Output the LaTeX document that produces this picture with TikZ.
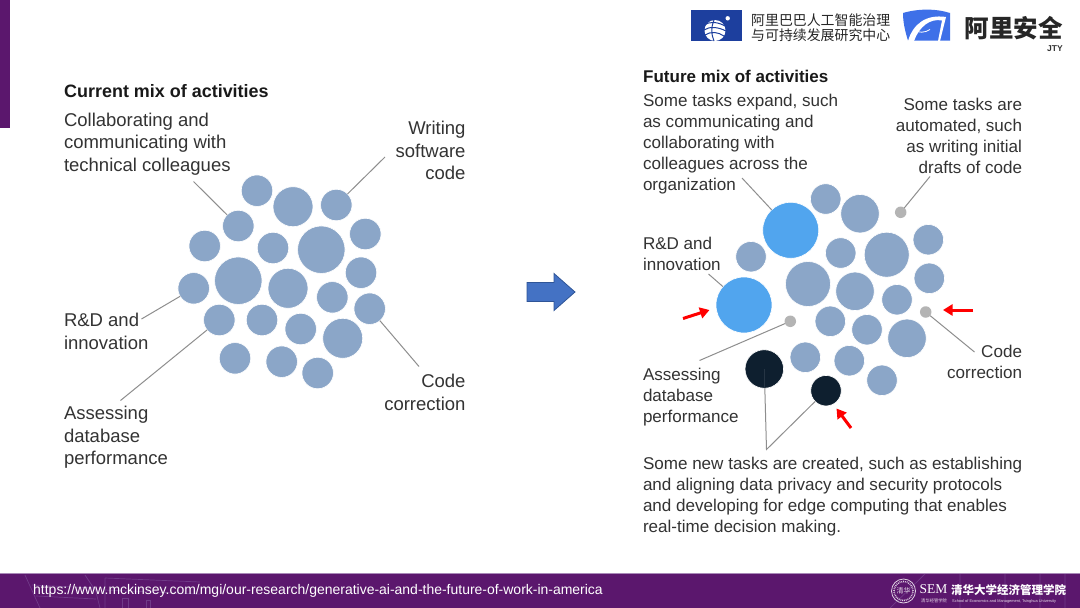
\documentclass[tikz,border=0pt]{standalone}
\usepackage{fontspec}
\setmainfont{Liberation Sans}
\newfontfamily\cjk{Noto Sans CJK SC}
\usetikzlibrary{arrows.meta}
\definecolor{bubblue}{HTML}{8BA6C8}
\definecolor{skyblue}{HTML}{51A5EE}
\definecolor{nightblue}{HTML}{0E1F2F}
\definecolor{dotgray}{HTML}{B4B4B4}
\definecolor{leadgray}{HTML}{8E8E8E}
\definecolor{txtgray}{HTML}{333333}
\definecolor{sempurple}{HTML}{5B176D}
\definecolor{patpurple}{HTML}{703A88}
\definecolor{logoblue}{HTML}{1D3F9E}
\definecolor{shieldblue}{HTML}{3E70E8}
\definecolor{arrowfill}{HTML}{4472C4}
\definecolor{arrowline}{HTML}{2F5597}
\tikzset{
  bub/.style={circle, inner sep=0pt, outer sep=0pt, fill=#1, draw=white, line width=0.6pt},
  bubS/.style={bub=bubblue, minimum size=31.5pt},
  bubM/.style={bub=bubblue, minimum size=40pt},
  bubL/.style={bub=bubblue, minimum size=47.5pt},
  futS/.style={bub=bubblue, minimum size=30.5pt},
  futM/.style={bub=bubblue, minimum size=38.5pt},
  futL/.style={bub=bubblue, minimum size=45pt},
  futB/.style={bub=skyblue, minimum size=56pt},
  futD/.style={bub=nightblue, minimum size=#1},
  dot/.style={circle, inner sep=0pt, outer sep=0pt, fill=dotgray, minimum size=11.5pt},
  lead/.style={draw=leadgray, line width=1pt},
  redarr/.style={draw=red, line width=3pt, -{Triangle[length=9.5pt,width=11pt]}},
  txt/.style={inner sep=0pt, outer sep=0pt, text=txtgray, font=\fontsize{18.5}{22.4}\selectfont},
  lefttxt/.style={txt, anchor=north west, align=left},
  righttxt/.style={txt, anchor=north east, align=right},
  futtxt/.style={inner sep=0pt, outer sep=0pt, text=txtgray, anchor=north west, align=left, font=\fontsize{17.05}{21}\selectfont},
  futrtxt/.style={futtxt, anchor=north east, align=right},
  pat/.style={draw=patpurple, line width=0.7pt}
}
\begin{document}
\begin{tikzpicture}[x=1pt,y=-1pt]
\useasboundingbox (0,0) rectangle (1080,608);
\fill [white] (0,0) rectangle (1080,608);

\fill [sempurple] (0,0) rectangle (10,128);
\fill [sempurple] (0,573) rectangle (1080,608);
\draw [patpurple!60!white, line width=0.8pt] (0,573.5) -- (1080,573.5);
\draw [pat] (25,575)--(40,608) (32,585)--(95,588)--(100,608) (36,596)--(96,599) (85,575)--(95,590) (105,578)--(200,582) (105,590)--(200,594) (105,578)--(105,608);
\draw [pat] (122,598) rectangle (128,608) (146,600) rectangle (150,608);
\draw [pat] (890,608)--(925,574) (960,574)--(960,608) (1005,574)--(1005,608) (1040,574)--(1040,608) (1065,574)--(1065,608);

\coordinate (tech) at (193.5,181.5);
\coordinate (write) at (385,157);
\coordinate (rnd) at (141.5,319);
\coordinate (assess) at (120.5,400.5);
\coordinate (code) at (419,366.5);
\coordinate (orga) at (742,178);
\coordinate (draft) at (930,176.5);
\coordinate (frnd) at (708.5,274);
\coordinate (fassess) at (699.5,360.5);
\coordinate (fcode) at (974.5,352);
\coordinate (newtask) at (766.5,449.5);
\coordinate (redAs) at (683,318.5);
\coordinate (redAe) at (709.5,310);
\coordinate (redBs) at (973,310);
\coordinate (redBe) at (943,310);
\coordinate (redCs) at (851,428);
\coordinate (redCe) at (836.5,408.5);

\node [bubS] (c1) at (257,190.7) {};
\node [bubM] (c2) at (293,206.7) {};
\node [bubS] (c3) at (336.3,205) {};
\node [bubS] (c4) at (238.3,226) {};
\node [bubS] (c5) at (204.7,246) {};
\node [bubS] (c6) at (273,248) {};
\node [bubL] (c7) at (321.3,249.7) {};
\node [bubS] (c8) at (365.3,234) {};
\node [bubS] (c9) at (361,272.7) {};
\node [bubL] (c10) at (238.3,280.7) {};
\node [bubM] (c11) at (288,288.3) {};
\node [bubS] (c12) at (332.3,297.3) {};
\node [bubS] (c13) at (193.7,288.3) {};
\node [bubS] (c14) at (369.7,308.7) {};
\node [bubS] (c15) at (219.3,320) {};
\node [bubS] (c16) at (262,320) {};
\node [bubS] (c17) at (300.7,329) {};
\node [bubM] (c18) at (342.7,338.3) {};
\node [bubS] (c19) at (235,358.3) {};
\node [bubS] (c20) at (281.7,361.7) {};
\node [bubS] (c21) at (317.7,373) {};

\node [futS] (f1) at (825.7,199) {};
\node [futM] (f2) at (860,213.7) {};
\node [dot] (f3) at (900.7,212.3) {};
\node [futB] (f4) at (790.7,230.3) {};
\node [futS] (f5) at (840.7,253) {};
\node [futL] (f6) at (886.7,254.7) {};
\node [futS] (f7) at (928.3,239.7) {};
\node [futS] (f8) at (751,256.7) {};
\node [futS] (f9) at (929.3,278.3) {};
\node [futL] (f10) at (808,284) {};
\node [futM] (f11) at (855,291.3) {};
\node [futS] (f12) at (897,299.7) {};
\node [futB] (f13) at (744,305) {};
\node [dot] (f14) at (925.7,312) {};
\node [dot] (f15) at (790.3,321.3) {};
\node [futS] (f16) at (830.3,321.3) {};
\node [futS] (f17) at (867,329.7) {};
\node [futM] (f18) at (907,338.3) {};
\node [futS] (f19) at (805.3,357.3) {};
\node [futS] (f20) at (849.3,360.7) {};
\node [futD=38.5pt] (f21) at (764.3,369) {};
\node [futS] (f22) at (882,380.3) {};
\node [futD=30.5pt] (f23) at (826,390.7) {};

\draw [lead] (tech) -- (c4);
\draw [lead] (write) -- (c3);
\draw [lead] (rnd) -- (c13);
\draw [lead] (assess) -- (c15);
\draw [lead] (code) -- (c14);
\draw [lead] (orga) -- (f4);
\draw [lead] (draft) -- (f3);
\draw [lead] (frnd) -- (f13);
\draw [lead] (fassess) -- (f15);
\draw [lead] (fcode) -- (f14);
\draw [lead] (f21) -- (newtask) -- (f23);
\draw [draw=nightblue!90!white, line width=0.6pt] (f21.center) -- (f21.south);

\draw [redarr] (redAs) -- (redAe);
\draw [redarr] (redBs) -- (redBe);
\draw [redarr] (redCs) -- (redCe);

\draw [fill=arrowfill, draw=arrowline, line width=0.8pt]
(527,282.5)--(554,282.5)--(554,273.5)--(575,292)--(554,310.5)--(554,301.5)--(527,301.5)--cycle;

\node [inner sep=0pt, anchor=west, text=black!90, font=\bfseries\fontsize{17.95}{21}\selectfont] (curtitle) at (64,91) {Current mix of activities};
\node [lefttxt] (lcollab) at (64,113) {Collaborating and\\communicating with\\technical colleagues};
\node [righttxt] (lwrite) at (465.5,121.5) {Writing\\software\\code};
\node [lefttxt] (lrnd) at (64,313.5) {R\&D and\\innovation};
\node [righttxt] (lcode) at (465.5,374.5) {Code\\correction};
\node [lefttxt] (lassess) at (64,406.5) {Assessing\\database\\performance};

\node [inner sep=0pt, anchor=west, text=black!90, font=\bfseries\fontsize{17}{20}\selectfont] (futtitle) at (643,76) {Future mix of activities};
\node [futtxt] (fexpand) at (643,94.5) {Some tasks expand, such\\as communicating and\\collaborating with\\colleagues across the\\organization};
\node [futrtxt] (fauto) at (1022,98) {Some tasks are\\automated, such\\as writing initial\\drafts of code};
\node [futtxt] (frndt) at (643,237) {R\&D and\\innovation};
\node [futtxt] (fassesst) at (643,368) {Assessing\\database\\performance};
\node [futrtxt] (fcodet) at (1022,345) {Code\\correction};
\node [futtxt] (fnew) at (643,457.5) {Some new tasks are created, such as establishing\\and aligning data privacy and security protocols\\and developing for edge computing that enables\\real-time decision making.};

\node [inner sep=0pt, anchor=west, text=white, font=\fontsize{13.97}{16}\selectfont] (url) at (33,591) {https://www.mckinsey.com/mgi/our-research/generative-ai-and-the-future-of-work-in-america};

\fill [logoblue] (691,10) rectangle (742,41);
\fill [white] (715,30.5) ellipse (10.5pt and 10.5pt);
\draw [logoblue, line width=1pt] (704,25)..controls (710,21) and (718,22) .. (725,26) (704,30)..controls (710,26) and (718,27) .. (726,31) (705,35)..controls (711,31) and (718,32) .. (724,36) (714,20)..controls (711,27) and (711,34) .. (714,41);
\fill [white] (727.7,18.3) circle (2.2pt);
\node [inner sep=0pt, anchor=west, text=black!85, font=\cjk\fontsize{13.9}{15}\selectfont] (logoA) at (751,20.5) {阿里巴巴人工智能治理};
\node [inner sep=0pt, anchor=west, text=black!85, font=\cjk\fontsize{13.9}{15}\selectfont] (logoB) at (751,35.5) {与可持续发展研究中心};
\fill [shieldblue] (903,13)..controls (918,8.5) and (936,8.5) .. (950,13)--(950,40.5)--(908,40.5)..controls (905,31) and (903,22) .. (903,13)--cycle;
\fill [white] (908,41)..controls (913,24) and (926,14) .. (946,17)--(940,41)--(938,41)--(942,20.5)..controls (930,18) and (919,27) .. (914,41)--cycle;
\draw [white, line width=0.8pt] (914.5,30)..controls (918,33) and (925,33) .. (930,29.5);

\node [inner sep=0pt, anchor=west, text=black!85, font=\cjk\bfseries\fontsize{24.5}{26}\selectfont] (logoC) at (964.5,28) {阿里安全};
\node [inner sep=0pt, anchor=east, text=black!80, font=\bfseries\fontsize{8.5}{9}\selectfont] (logoD) at (1063,49) {JTY};

\draw [white!80!sempurple, line width=0.8pt] (903.5,591) circle (12pt);
\draw [white!80!sempurple, line width=1.6pt, dash pattern=on 0.8pt off 1pt] (903.5,591) circle (9.5pt);
\node [inner sep=0pt, text=white!85!sempurple, font=\fontsize{7}{7}\selectfont] (sealstar) at (903.5,591) {\cjk 清华};
\node [inner sep=0pt, anchor=west, text=white, font=\fontspec{Liberation Serif}\fontsize{13.5}{14}\selectfont] (semname) at (919.5,589.5) {SEM};
\node [inner sep=0pt, anchor=west, text=white!85!sempurple, font=\cjk\fontsize{4.3}{5}\selectfont] (semcn) at (921,601) {清华经管学院};
\node [inner sep=0pt, anchor=west, text=white, font=\cjk\bfseries\fontsize{11.5}{12}\selectfont] (semschool) at (951,590) {清华大学经济管理学院};
\node [inner sep=0pt, anchor=west, text=white!85!sempurple, font=\fontsize{3.9}{5}\selectfont] (semen) at (952,601.5) {School of Economics and Management, Tsinghua University};
\end{tikzpicture}
\end{document}
